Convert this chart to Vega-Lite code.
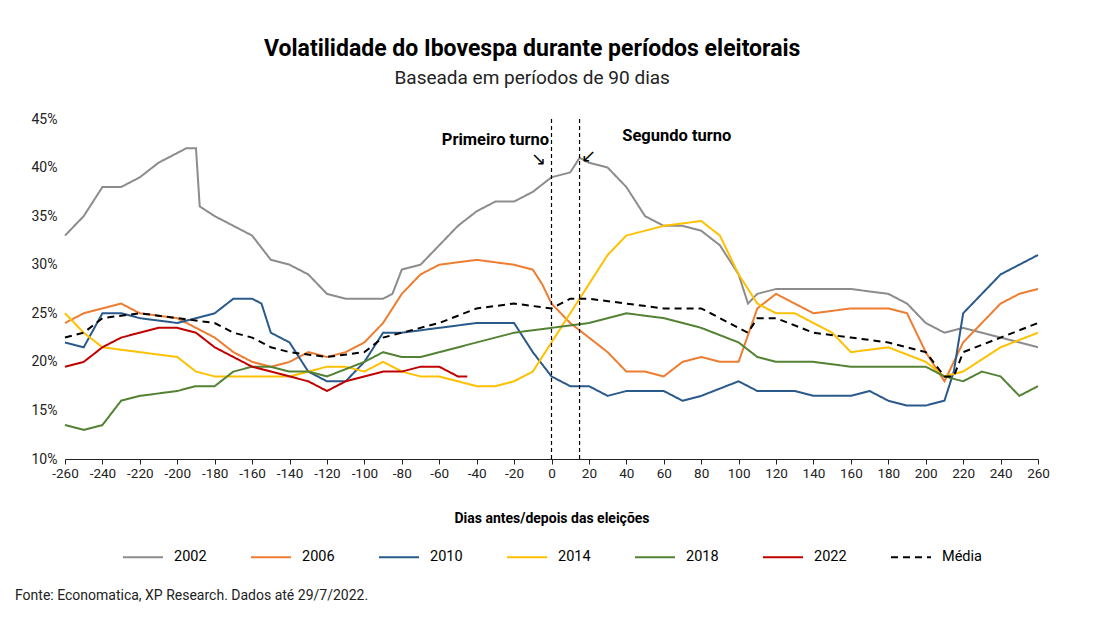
{
"$schema":"https://vega.github.io/schema/vega-lite/v6.json",
"background":"white",
"padding":{"left":15,"top":38,"right":20,"bottom":5},
"spacing":24,
"title":{"text":"Volatilidade do Ibovespa durante períodos eleitorais","subtitle":"Baseada em períodos de 90 dias","font":"Roboto","fontSize":23,"fontWeight":"bold","subtitleFont":"Roboto","subtitleFontSize":19,"subtitleColor":"#222","anchor":"middle","offset":24,"subtitlePadding":8},
"config":{"font":"Roboto","view":{"stroke":null},"axis":{"labelFont":"Roboto","labelFontSize":13,"labelColor":"#222","titleFont":"Roboto"},"legend":{"labelFont":"Roboto","labelFontSize":14.5,"layout":{"bottom":{"anchor":"middle"}}}},
"resolve":{"legend":{"color":"independent","strokeDash":"independent","strokeWidth":"independent"}},
"vconcat":[
{"width":973,"height":340,
"layer":[
{"data":{"values":[
{"s":"2002","d":-260,"v":33},{"s":"2002","d":-250,"v":35},{"s":"2002","d":-240,"v":38},{"s":"2002","d":-230,"v":38},{"s":"2002","d":-220,"v":39},{"s":"2002","d":-210,"v":40.5},{"s":"2002","d":-200,"v":41.5},{"s":"2002","d":-195,"v":42},{"s":"2002","d":-190,"v":42},{"s":"2002","d":-188,"v":36},{"s":"2002","d":-180,"v":35},{"s":"2002","d":-170,"v":34},{"s":"2002","d":-160,"v":33},{"s":"2002","d":-150,"v":30.5},{"s":"2002","d":-140,"v":30},{"s":"2002","d":-130,"v":29},{"s":"2002","d":-120,"v":27},{"s":"2002","d":-110,"v":26.5},{"s":"2002","d":-100,"v":26.5},{"s":"2002","d":-90,"v":26.5},{"s":"2002","d":-85,"v":27},{"s":"2002","d":-80,"v":29.5},{"s":"2002","d":-70,"v":30},{"s":"2002","d":-60,"v":32},{"s":"2002","d":-50,"v":34},{"s":"2002","d":-40,"v":35.5},{"s":"2002","d":-30,"v":36.5},{"s":"2002","d":-20,"v":36.5},{"s":"2002","d":-10,"v":37.5},{"s":"2002","d":0,"v":39},{"s":"2002","d":10,"v":39.5},{"s":"2002","d":15,"v":41},{"s":"2002","d":20,"v":40.5},{"s":"2002","d":30,"v":40},{"s":"2002","d":40,"v":38},{"s":"2002","d":50,"v":35},{"s":"2002","d":60,"v":34},{"s":"2002","d":70,"v":34},{"s":"2002","d":80,"v":33.5},{"s":"2002","d":90,"v":32},{"s":"2002","d":100,"v":29},{"s":"2002","d":105,"v":26},{"s":"2002","d":110,"v":27},{"s":"2002","d":120,"v":27.5},{"s":"2002","d":140,"v":27.5},{"s":"2002","d":160,"v":27.5},{"s":"2002","d":180,"v":27},{"s":"2002","d":190,"v":26},{"s":"2002","d":200,"v":24},{"s":"2002","d":210,"v":23},{"s":"2002","d":220,"v":23.5},{"s":"2002","d":240,"v":22.5},{"s":"2002","d":260,"v":21.5},
{"s":"2006","d":-260,"v":24},{"s":"2006","d":-250,"v":25},{"s":"2006","d":-240,"v":25.5},{"s":"2006","d":-230,"v":26},{"s":"2006","d":-220,"v":25},{"s":"2006","d":-200,"v":24.5},{"s":"2006","d":-190,"v":23.5},{"s":"2006","d":-180,"v":22.5},{"s":"2006","d":-170,"v":21},{"s":"2006","d":-160,"v":20},{"s":"2006","d":-150,"v":19.5},{"s":"2006","d":-140,"v":20},{"s":"2006","d":-130,"v":21},{"s":"2006","d":-120,"v":20.5},{"s":"2006","d":-110,"v":21},{"s":"2006","d":-100,"v":22},{"s":"2006","d":-90,"v":24},{"s":"2006","d":-80,"v":27},{"s":"2006","d":-70,"v":29},{"s":"2006","d":-60,"v":30},{"s":"2006","d":-40,"v":30.5},{"s":"2006","d":-20,"v":30},{"s":"2006","d":-10,"v":29.5},{"s":"2006","d":-5,"v":28},{"s":"2006","d":0,"v":26},{"s":"2006","d":10,"v":24},{"s":"2006","d":20,"v":22.5},{"s":"2006","d":30,"v":21},{"s":"2006","d":40,"v":19},{"s":"2006","d":50,"v":19},{"s":"2006","d":60,"v":18.5},{"s":"2006","d":70,"v":20},{"s":"2006","d":80,"v":20.5},{"s":"2006","d":90,"v":20},{"s":"2006","d":100,"v":20},{"s":"2006","d":110,"v":25.5},{"s":"2006","d":120,"v":27},{"s":"2006","d":130,"v":26},{"s":"2006","d":140,"v":25},{"s":"2006","d":160,"v":25.5},{"s":"2006","d":180,"v":25.5},{"s":"2006","d":190,"v":25},{"s":"2006","d":200,"v":21},{"s":"2006","d":210,"v":18},{"s":"2006","d":220,"v":22},{"s":"2006","d":230,"v":24},{"s":"2006","d":240,"v":26},{"s":"2006","d":250,"v":27},{"s":"2006","d":260,"v":27.5},
{"s":"2010","d":-260,"v":22},{"s":"2010","d":-250,"v":21.5},{"s":"2010","d":-240,"v":25},{"s":"2010","d":-230,"v":25},{"s":"2010","d":-220,"v":24.5},{"s":"2010","d":-200,"v":24},{"s":"2010","d":-180,"v":25},{"s":"2010","d":-170,"v":26.5},{"s":"2010","d":-160,"v":26.5},{"s":"2010","d":-155,"v":26},{"s":"2010","d":-150,"v":23},{"s":"2010","d":-140,"v":22},{"s":"2010","d":-130,"v":19},{"s":"2010","d":-120,"v":18},{"s":"2010","d":-110,"v":18},{"s":"2010","d":-100,"v":20},{"s":"2010","d":-90,"v":23},{"s":"2010","d":-80,"v":23},{"s":"2010","d":-60,"v":23.5},{"s":"2010","d":-40,"v":24},{"s":"2010","d":-20,"v":24},{"s":"2010","d":-10,"v":21},{"s":"2010","d":0,"v":18.5},{"s":"2010","d":10,"v":17.5},{"s":"2010","d":20,"v":17.5},{"s":"2010","d":30,"v":16.5},{"s":"2010","d":40,"v":17},{"s":"2010","d":60,"v":17},{"s":"2010","d":70,"v":16},{"s":"2010","d":80,"v":16.5},{"s":"2010","d":100,"v":18},{"s":"2010","d":110,"v":17},{"s":"2010","d":130,"v":17},{"s":"2010","d":140,"v":16.5},{"s":"2010","d":160,"v":16.5},{"s":"2010","d":170,"v":17},{"s":"2010","d":180,"v":16},{"s":"2010","d":190,"v":15.5},{"s":"2010","d":200,"v":15.5},{"s":"2010","d":210,"v":16},{"s":"2010","d":215,"v":19},{"s":"2010","d":220,"v":25},{"s":"2010","d":230,"v":27},{"s":"2010","d":240,"v":29},{"s":"2010","d":250,"v":30},{"s":"2010","d":260,"v":31},
{"s":"2014","d":-260,"v":25},{"s":"2014","d":-250,"v":23},{"s":"2014","d":-240,"v":21.5},{"s":"2014","d":-220,"v":21},{"s":"2014","d":-200,"v":20.5},{"s":"2014","d":-190,"v":19},{"s":"2014","d":-180,"v":18.5},{"s":"2014","d":-160,"v":18.5},{"s":"2014","d":-140,"v":18.5},{"s":"2014","d":-120,"v":19.5},{"s":"2014","d":-110,"v":19.5},{"s":"2014","d":-100,"v":19},{"s":"2014","d":-90,"v":20},{"s":"2014","d":-80,"v":19},{"s":"2014","d":-70,"v":18.5},{"s":"2014","d":-60,"v":18.5},{"s":"2014","d":-50,"v":18},{"s":"2014","d":-40,"v":17.5},{"s":"2014","d":-30,"v":17.5},{"s":"2014","d":-20,"v":18},{"s":"2014","d":-10,"v":19},{"s":"2014","d":0,"v":22},{"s":"2014","d":10,"v":25},{"s":"2014","d":20,"v":28},{"s":"2014","d":30,"v":31},{"s":"2014","d":40,"v":33},{"s":"2014","d":60,"v":34},{"s":"2014","d":80,"v":34.5},{"s":"2014","d":90,"v":33},{"s":"2014","d":100,"v":29},{"s":"2014","d":110,"v":26},{"s":"2014","d":120,"v":25},{"s":"2014","d":130,"v":25},{"s":"2014","d":140,"v":24},{"s":"2014","d":150,"v":23},{"s":"2014","d":160,"v":21},{"s":"2014","d":180,"v":21.5},{"s":"2014","d":200,"v":20},{"s":"2014","d":210,"v":18.5},{"s":"2014","d":220,"v":19},{"s":"2014","d":240,"v":21.5},{"s":"2014","d":260,"v":23},
{"s":"2018","d":-260,"v":13.5},{"s":"2018","d":-250,"v":13},{"s":"2018","d":-240,"v":13.5},{"s":"2018","d":-230,"v":16},{"s":"2018","d":-220,"v":16.5},{"s":"2018","d":-200,"v":17},{"s":"2018","d":-190,"v":17.5},{"s":"2018","d":-180,"v":17.5},{"s":"2018","d":-170,"v":19},{"s":"2018","d":-160,"v":19.5},{"s":"2018","d":-150,"v":19.5},{"s":"2018","d":-140,"v":19},{"s":"2018","d":-130,"v":19},{"s":"2018","d":-120,"v":18.5},{"s":"2018","d":-100,"v":20},{"s":"2018","d":-90,"v":21},{"s":"2018","d":-80,"v":20.5},{"s":"2018","d":-70,"v":20.5},{"s":"2018","d":-60,"v":21},{"s":"2018","d":-40,"v":22},{"s":"2018","d":-20,"v":23},{"s":"2018","d":0,"v":23.5},{"s":"2018","d":20,"v":24},{"s":"2018","d":40,"v":25},{"s":"2018","d":60,"v":24.5},{"s":"2018","d":80,"v":23.5},{"s":"2018","d":100,"v":22},{"s":"2018","d":110,"v":20.5},{"s":"2018","d":120,"v":20},{"s":"2018","d":140,"v":20},{"s":"2018","d":160,"v":19.5},{"s":"2018","d":180,"v":19.5},{"s":"2018","d":200,"v":19.5},{"s":"2018","d":210,"v":18.5},{"s":"2018","d":220,"v":18},{"s":"2018","d":230,"v":19},{"s":"2018","d":240,"v":18.5},{"s":"2018","d":250,"v":16.5},{"s":"2018","d":260,"v":17.5},
{"s":"2022","d":-260,"v":19.5},{"s":"2022","d":-250,"v":20},{"s":"2022","d":-240,"v":21.5},{"s":"2022","d":-230,"v":22.5},{"s":"2022","d":-220,"v":23},{"s":"2022","d":-210,"v":23.5},{"s":"2022","d":-200,"v":23.5},{"s":"2022","d":-190,"v":23},{"s":"2022","d":-180,"v":21.5},{"s":"2022","d":-170,"v":20.5},{"s":"2022","d":-160,"v":19.5},{"s":"2022","d":-150,"v":19},{"s":"2022","d":-140,"v":18.5},{"s":"2022","d":-130,"v":18},{"s":"2022","d":-120,"v":17},{"s":"2022","d":-110,"v":18},{"s":"2022","d":-100,"v":18.5},{"s":"2022","d":-90,"v":19},{"s":"2022","d":-80,"v":19},{"s":"2022","d":-70,"v":19.5},{"s":"2022","d":-60,"v":19.5},{"s":"2022","d":-50,"v":18.5},{"s":"2022","d":-45,"v":18.5},
{"s":"Média","d":-260,"v":22.5},{"s":"Média","d":-250,"v":23},{"s":"Média","d":-240,"v":24.5},{"s":"Média","d":-220,"v":25},{"s":"Média","d":-200,"v":24.5},{"s":"Média","d":-180,"v":24},{"s":"Média","d":-170,"v":23},{"s":"Média","d":-160,"v":22.5},{"s":"Média","d":-150,"v":21.5},{"s":"Média","d":-140,"v":21},{"s":"Média","d":-120,"v":20.5},{"s":"Média","d":-100,"v":21},{"s":"Média","d":-90,"v":22.5},{"s":"Média","d":-80,"v":23},{"s":"Média","d":-60,"v":24},{"s":"Média","d":-40,"v":25.5},{"s":"Média","d":-20,"v":26},{"s":"Média","d":0,"v":25.5},{"s":"Média","d":10,"v":26.5},{"s":"Média","d":20,"v":26.5},{"s":"Média","d":40,"v":26},{"s":"Média","d":60,"v":25.5},{"s":"Média","d":80,"v":25.5},{"s":"Média","d":100,"v":23.5},{"s":"Média","d":105,"v":23},{"s":"Média","d":110,"v":24.5},{"s":"Média","d":120,"v":24.5},{"s":"Média","d":140,"v":23},{"s":"Média","d":160,"v":22.5},{"s":"Média","d":180,"v":22},{"s":"Média","d":200,"v":21},{"s":"Média","d":210,"v":18.5},{"s":"Média","d":215,"v":18.5},{"s":"Média","d":220,"v":21},{"s":"Média","d":240,"v":22.5},{"s":"Média","d":260,"v":24}
]},
"transform":[{"calculate":"datum.v/100","as":"p"}],
"mark":{"type":"line","interpolate":"linear"},
"encoding":{
"x":{"field":"d","type":"quantitative","scale":{"domain":[-260,260],"nice":false},"axis":{"values":[-260,-240,-220,-200,-180,-160,-140,-120,-100,-80,-60,-40,-20,0,20,40,60,80,100,120,140,160,180,200,220,240,260],"tickCount":27,"labelExpr":"'' + datum.value","labelOverlap":false,"labelFontSize":13.5,"labelBound":false,"labelFlush":false,"title":"Dias antes/depois das eleições","titleFontSize":14,"titleFontWeight":"bold","titlePadding":32,"grid":false,"domainColor":"#222","tickColor":"#222","labelPadding":2}},
"y":{"field":"p","type":"quantitative","scale":{"domain":[0.1,0.45],"nice":false},"axis":{"format":".0%","values":[0.1,0.15,0.2,0.25,0.3,0.35,0.4,0.45],"labelFontSize":14,"title":null,"grid":false,"domain":false,"ticks":false,"labelPadding":8}},
"color":{"field":"s","type":"nominal","scale":{"domain":["2002","2006","2010","2014","2018","2022","Média"],"range":["#8c8c8c","#ed7d31","#2a5a8c","#ffc000","#548235","#c00000","#000000"]},"legend":{"orient":"bottom","direction":"horizontal","title":null,"symbolType":"stroke","symbolSize":1600,"columnPadding":40,"labelOffset":10,"offset":10}},
"strokeDash":{"field":"s","type":"nominal","scale":{"domain":["2002","2006","2010","2014","2018","2022","Média"],"range":[[1,0],[1,0],[1,0],[1,0],[1,0],[1,0],[7,5]]}},
"strokeWidth":{"field":"s","type":"nominal","scale":{"domain":["2002","2006","2010","2014","2018","2022","Média"],"range":[2,2,2,2,2,3.2,3.5]}}
}},
{"data":{"values":[{"d":0},{"d":15}]},"mark":{"type":"rule","strokeDash":[4,3],"color":"#000","strokeWidth":1.2},"encoding":{"x":{"field":"d","type":"quantitative"}}},
{"data":{"values":[{"d":-30,"p":0.428,"t":"Primeiro turno"},{"d":67,"p":0.433,"t":"Segundo turno"}]},"mark":{"type":"text","fontSize":16.5,"fontWeight":"bold","font":"Roboto"},"encoding":{"x":{"field":"d","type":"quantitative"},"y":{"field":"p","type":"quantitative"},"text":{"field":"t"}}},
{"data":{"values":[{"d":-7,"p":0.408,"t":"↘"},{"d":20,"p":0.411,"t":"↙"}]},"mark":{"type":"text","fontSize":18},"encoding":{"x":{"field":"d","type":"quantitative"},"y":{"field":"p","type":"quantitative"},"text":{"field":"t"}}}
]},
{"width":973,"height":1,"data":{"values":[{}]},"mark":{"type":"point","opacity":0},"title":{"text":"Fonte: Economatica, XP Research. Dados até 29/7/2022.","anchor":"start","orient":"top","fontSize":14,"fontWeight":"normal","font":"Roboto","color":"#222","dx":-50,"offset":0},"encoding":{}}
]}
